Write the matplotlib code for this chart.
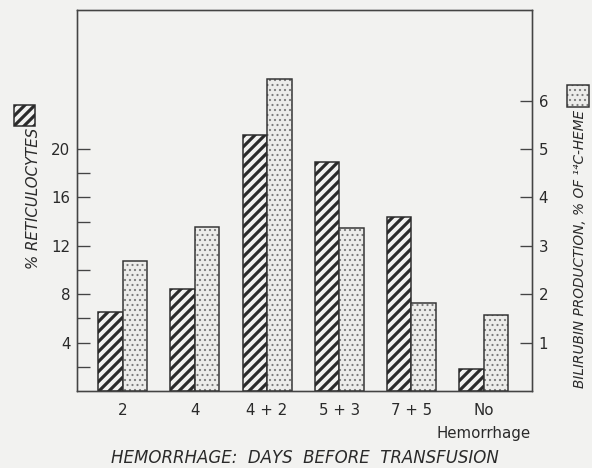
import matplotlib
matplotlib.use('Agg')
import matplotlib.pyplot as plt
from matplotlib.patches import Rectangle
import numpy as np

# values
groups = ['2', '4', '4 + 2', '5 + 3', '7 + 5', 'No\nHemorrhage']
reticulocytes = [6.5, 8.4, 21.2, 18.9, 14.4, 1.8]      # % (left axis)
bilirubin = [2.69, 3.38, 6.45, 3.36, 1.81, 1.57]       # % of 14C-heme (right axis)
left_ticks = [4, 8, 12, 16, 20]
left_minor = [2, 6, 10, 14, 18]
right_ticks = [1, 2, 3, 4, 5, 6]

paper = '#f2f2f0'
ink = '#2a2a2a'
W, H = 592, 468
stripes = '////'
dots = '....'
dot_color = '#7a7a7a'


def hatch_width(patches, lw):
    '''per-patch hatch line width where matplotlib supports it'''
    for p in patches:
        if hasattr(p, 'set_hatch_linewidth'):
            p.set_hatch_linewidth(lw)


plt.rcParams['font.family'] = ['DejaVu Sans']
plt.rcParams['hatch.linewidth'] = 1.9

fig = plt.figure(figsize=(W / 120, H / 120), dpi=120, facecolor=paper)
ax = fig.add_axes([77 / W, 1 - 391 / H, 455 / W, 381 / H], facecolor=paper)
ax2 = ax.twinx()

x = np.arange(len(groups))
bw = 0.34

ret_bars = ax.bar(x, reticulocytes, width=-bw, align='edge', facecolor=paper,
                  edgecolor='#2a2a2a', hatch=stripes, linewidth=0.9, zorder=2)
hatch_width(ret_bars, 1.9)
bil_bars = ax2.bar(x, bilirubin, width=bw, align='edge', facecolor='#ececea',
                   edgecolor=dot_color, hatch=dots, linewidth=0, zorder=2)
hatch_width(bil_bars, 0.7)
ax2.bar(x, bilirubin, width=bw, align='edge', fill=False,
        edgecolor='#333333', linewidth=0.9, zorder=3)

ax.set_xlim(-0.633, 5.669)
ax.set_ylim(0, 31.5)
ax2.set_ylim(0, 7.875)

ax.set_xticks(x)
ax.set_xticklabels(groups, fontsize=9, color=ink, linespacing=1.7, va='top')
ax.tick_params(axis='x', length=0, pad=7)

ax.set_yticks(left_ticks)
ax.set_yticks(left_minor, minor=True)
ax.tick_params(axis='y', which='both', direction='in', length=8, width=0.8,
               color='#444444', labelsize=9, labelcolor=ink, pad=4)
ax2.set_yticks(right_ticks)
ax2.tick_params(axis='y', direction='in', length=7, width=0.8,
                color='#444444', labelsize=9, labelcolor=ink, pad=4)

for a in (ax, ax2):
    for s in a.spines.values():
        s.set_color('#444444')
        s.set_linewidth(0.8)

fig.text(34 / W, 1 - 198 / H, '% RETICULOCYTES', rotation=90, ha='center',
         va='center', fontsize=9, style='italic', color=ink)
fig.text(580 / W, 1 - 249 / H, 'BILIRUBIN PRODUCTION, % OF \u00b9\u2074C-HEME',
         rotation=90, ha='center', va='center', fontsize=8.2, style='italic', color=ink)
fig.text(305 / W, 1 - 458 / H, 'HEMORRHAGE:  DAYS  BEFORE  TRANSFUSION',
         ha='center', va='center', fontsize=10, style='italic', color=ink)

# legend swatches next to the axis titles
sw1 = Rectangle((14 / W, 1 - 126 / H), 21 / W, 21 / H, transform=fig.transFigure,
                facecolor=paper, edgecolor='#2a2a2a', hatch=stripes, linewidth=0.9)
sw2 = Rectangle((567 / W, 1 - 107 / H), 22 / W, 22 / H, transform=fig.transFigure,
                facecolor='#ececea', edgecolor=dot_color, hatch=dots, linewidth=0)
hatch_width([sw1], 1.9)
hatch_width([sw2], 0.7)
fig.add_artist(sw1)
fig.add_artist(sw2)
fig.add_artist(Rectangle((567 / W, 1 - 107 / H), 22 / W, 22 / H, transform=fig.transFigure,
                         fill=False, edgecolor='#333333', linewidth=0.9))

fig.savefig('out.png', dpi=120, facecolor=paper)
